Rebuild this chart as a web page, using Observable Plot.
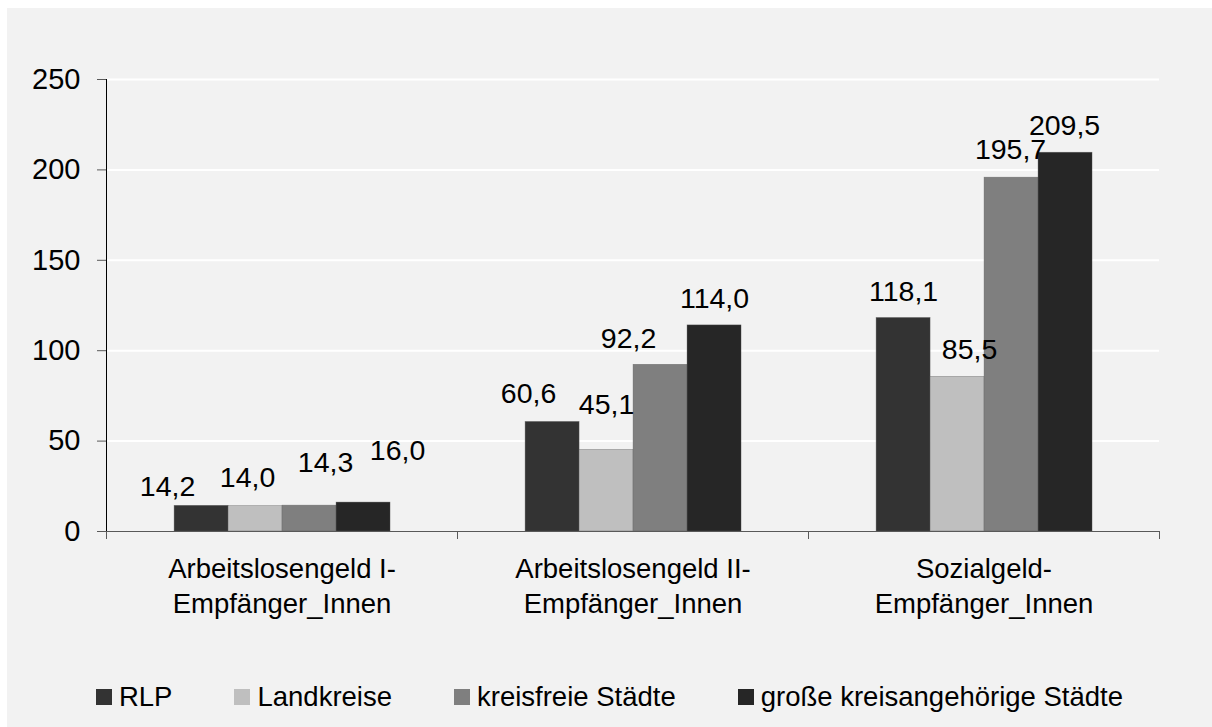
<!DOCTYPE html>
<html>
<head>
<meta charset="utf-8">
<script src="https://cdn.jsdelivr.net/npm/d3@7"></script>
<script src="https://cdn.jsdelivr.net/npm/@observablehq/plot@0.6"></script>
<style>
  html, body { margin: 0; padding: 0; background: #ffffff; width: 1212px; height: 727px; overflow: hidden; }
  #bg { position: absolute; left: 7px; top: 8px; right: 0; bottom: 0; background: #f2f2f2; }
  #chart { position: absolute; left: 0; top: 0; }
  #legend { position: absolute; left: 7px; top: 680px; width: 1205px; height: 34px;
    display: flex; justify-content: center; align-items: center; gap: 62px;
    font-family: "Liberation Sans", Arial, sans-serif; font-size: 27.5px; color: #000; }
  #legend .item { display: flex; align-items: center; white-space: nowrap; }
  #legend .sw { width: 16px; height: 16px; margin-right: 7px; display: inline-block; }
</style>
</head>
<body>
<div id="bg"></div>
<div id="chart"></div>
<div id="legend"></div>
<script>
// ---- data ----
const categories = ["Arbeitslosengeld I-\nEmpfänger_Innen", "Arbeitslosengeld II-\nEmpfänger_Innen", "Sozialgeld-\nEmpfänger_Innen"];
const seriesNames = ["RLP", "Landkreise", "kreisfreie Städte", "große kreisangehörige Städte"];
const rlp = [14.2, 60.6, 118.1];
const landkreise = [14.0, 45.1, 85.5];
const kreisfreie = [14.3, 92.2, 195.7];
const grosse = [16.0, 114.0, 209.5];
const yTicks = [0, 50, 100, 150, 200, 250];
const colors = ["#333333", "#bfbfbf", "#7f7f7f", "#262626"];

// label nudges (pixel offsets, per category, per series) as in the original manual label placement
const labelNudge = [
  [[-34, -19], [-8, -28], [16, -43], [34, -52]],
  [[-24, -28], [0, -45], [-32, -26], [0, -27]],
  [[0, -26], [12, -27], [-1, -28], [-1, -27]]
];

// ---- build table ----
const seriesValues = [rlp, landkreise, kreisfreie, grosse];
const groupOffset = 0.194, barW = 0.1538;
const bars = [];
categories.forEach((c, ci) => {
  seriesNames.forEach((s, si) => {
    const x1 = ci + groupOffset + si * barW;
    bars.push({category: c, series: s, value: seriesValues[si][ci], x1, x2: x1 + barW, xc: x1 + barW / 2,
      ndx: labelNudge[ci][si][0], ndy: labelNudge[ci][si][1]});
  });
});
const fmt = v => v.toFixed(1).replace(".", ",");
const font = "Liberation Sans, Arial, sans-serif";

const labelMarks = bars.map(b =>
  Plot.text([b], {x: "xc", y: "value", text: d => fmt(d.value), dx: b.ndx, dy: b.ndy, lineAnchor: "middle", fontSize: 28.5, fill: "#000"})
);

const chart = Plot.plot({
  width: 1212,
  height: 680,
  marginLeft: 106,
  marginRight: 53,
  marginTop: 79,
  marginBottom: 149,
  x: {domain: [0, categories.length], axis: null},
  y: {domain: [0, 250], axis: null},
  color: {domain: seriesNames, range: colors},
  style: {background: "transparent", fontFamily: font, color: "#000"},
  marks: [
    Plot.ruleY(yTicks.filter(d => d > 0), {stroke: "#ffffff", strokeWidth: 2}),
    Plot.rectY(bars, {x1: "x1", x2: "x2", y1: 0, y2: "value", fill: "series", stroke: "#5a5a5a", strokeWidth: 0.6, strokeOpacity: 0.6}),
    Plot.ruleY([0], {stroke: "#595959", strokeWidth: 1.2}),
    Plot.ruleX([0], {y1: 0, y2: 250, stroke: "#000", strokeWidth: 1}),
    Plot.axisY({ticks: yTicks, label: null, tickSize: 9, tickPadding: 17, fontSize: 29, tickFormat: d => String(d), stroke: "#595959", fill: "#000"}),
    Plot.axisX({ticks: d3.range(categories.length + 1), label: null, tickSize: 8, tickFormat: () => "", stroke: "#595959"}),
    Plot.text(categories, {x: (d, i) => i + 0.5, y: 0, text: d => d, dy: 21.5, lineAnchor: "top", lineHeight: 1.27, fontSize: 27.5, fill: "#000"}),
    ...labelMarks
  ]
});
document.getElementById("chart").appendChild(chart);

// ---- legend ----
const legend = document.getElementById("legend");
seriesNames.forEach((s, i) => {
  const item = document.createElement("span");
  item.className = "item";
  const sw = document.createElement("span");
  sw.className = "sw";
  sw.style.background = colors[i];
  const t = document.createElement("span");
  t.textContent = s;
  item.appendChild(sw);
  item.appendChild(t);
  legend.appendChild(item);
});
</script>
</body>
</html>
